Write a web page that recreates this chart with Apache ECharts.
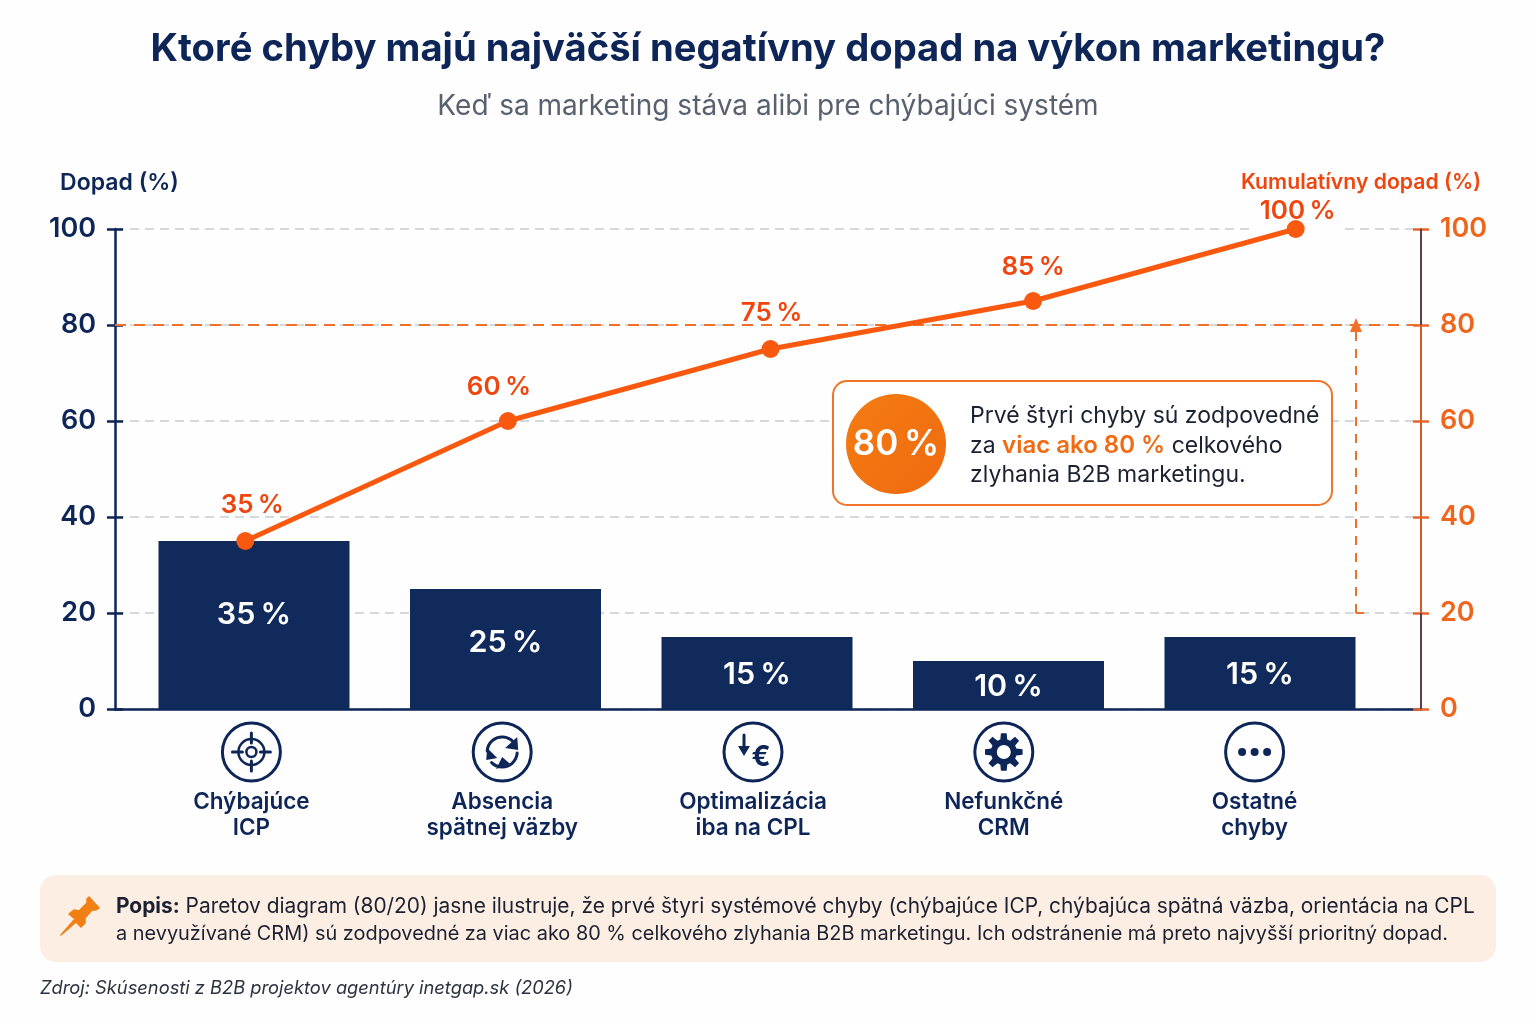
<!DOCTYPE html>
<html><head><meta charset="utf-8">
<style>html,body{margin:0;padding:0;background:#fff}#c{width:1536px;height:1024px}</style>
<script src="https://cdn.jsdelivr.net/npm/echarts@6/dist/echarts.min.js"></script>
</head><body><div id="c"></div>
<script>
const categories = ['Chýbajúce\nICP','Absencia\nspätnej väzby','Optimalizácia\niba na CPL','Nefunkčné\nCRM','Ostatné\nchyby'];
const impactValues = [35,25,15,10,15];
const cumulativeValues = [35,60,75,85,100];
const thresholdValue = 80;
const arrowFromValue = 20;
const yTicks = {min:0,max:100,interval:20};

const NAVY='#0e2557', BAR='#102a5c', ORANGE='#f9590f', RED='#f0450e', TICKO='#f0651c', BG='#fefefe', FONT='Inter, "Noto Sans", sans-serif';
const PCT='\u2009%';
const chart = echarts.init(document.getElementById('c'),null,{renderer:'canvas'});
const yBase = Object.assign({type:'value'},yTicks);
const hiddenCat = (g)=>({type:'category',gridIndex:g,data:categories,show:false});
const hiddenY = (g)=>Object.assign({},yBase,{gridIndex:g,show:false});
const axisX=1421, arrowX=1356;

chart.setOption({
  backgroundColor:BG,
  animation:false,
  title:[
    {text:'Ktoré chyby majú najväčší negatívny dopad na výkon marketingu?',left:'center',top:26,textStyle:{fontFamily:FONT,fontSize:38.2,fontWeight:700,color:NAVY}},
    {text:'Keď sa marketing stáva alibi pre chýbajúci systém',left:'center',top:88,textStyle:{fontFamily:FONT,fontSize:28,fontWeight:400,color:'#59616f'}}
  ],
  grid:[
    {left:115,top:229,width:1306,height:480},   // axes and grid lines
    {left:128.25,top:229,width:1257.5,height:480}, // bars
    {left:114,top:229,width:1313,height:480},   // cumulative line
    {left:126,top:229,width:1254,height:480}    // category labels and icons
  ],
  xAxis:[
    {type:'category',gridIndex:0,data:categories,axisLine:{lineStyle:{color:NAVY,width:2.5}},axisTick:{show:false},axisLabel:{show:false}},
    hiddenCat(1),hiddenCat(2),
    {type:'category',gridIndex:3,data:categories,axisLine:{show:false},axisTick:{show:false},
     axisLabel:{margin:80,fontFamily:FONT,fontSize:22.5,fontWeight:600,color:NAVY,lineHeight:26,interval:0}}
  ],
  yAxis:[
    Object.assign({},yBase,{gridIndex:0,position:'left',name:'Dopad (%)',nameLocation:'end',nameGap:34,
      nameTextStyle:{fontFamily:FONT,fontSize:23,fontWeight:600,color:NAVY,align:'center',padding:[0,0,0,9]},
      axisLine:{show:true,lineStyle:{color:NAVY,width:2.5}},axisTick:{show:true,length:8,lineStyle:{color:NAVY,width:2.5}},
      axisLabel:{margin:19,fontFamily:FONT,fontSize:27,fontWeight:600,color:NAVY,padding:[7,0,0,0]},
      splitLine:{show:true,lineStyle:{color:'#c9ccd1',width:1.5,type:[9,6]}}}),
    Object.assign({},yBase,{gridIndex:0,position:'right',name:'Kumulatívny dopad (%)',nameLocation:'end',nameGap:36,
      nameTextStyle:{fontFamily:FONT,fontSize:21.2,fontWeight:600,color:RED,align:'center',padding:[0,120,0,0]},
      axisLine:{show:true,lineStyle:{color:'#d35a25',width:2}},axisTick:{show:true,length:8,lineStyle:{color:'#e8642a',width:2.5}},
      axisLabel:{margin:19,fontFamily:FONT,fontSize:27,fontWeight:600,color:TICKO,padding:[7,0,0,0]},splitLine:{show:false}}),
    Object.assign({},yBase,{gridIndex:0,position:'left',axisLine:{show:false},axisLabel:{show:false},splitLine:{show:false},
      axisTick:{show:true,inside:true,length:8,lineStyle:{color:NAVY,width:2.5}}}),
    Object.assign({},yBase,{gridIndex:0,position:'right',axisLine:{show:false},axisLabel:{show:false},splitLine:{show:false},
      axisTick:{show:true,inside:true,length:8,lineStyle:{color:'#e8642a',width:2.5}}}),
    hiddenY(1),hiddenY(2),hiddenY(3)
  ],
  series:[
    {type:'line',name:'Prah',xAxisIndex:0,yAxisIndex:0,data:[],z:3,silent:true,
     markLine:{silent:true,symbol:'none',animation:false,label:{show:false},
       data:[
         {yAxis:thresholdValue,lineStyle:{color:'#f0702a',width:2,type:[11,8]}},
         [{x:arrowX,yAxis:arrowFromValue,symbol:'none',lineStyle:{color:'#f0702a',width:2,type:[9,8]}},{x:arrowX,yAxis:thresholdValue,symbol:'triangle',symbolSize:[12,14]}],
         [{x:arrowX,yAxis:arrowFromValue,lineStyle:{color:'#f0702a',width:2,type:'solid'}},{x:arrowX+8,yAxis:arrowFromValue}],
         [{x:axisX,yAxis:yTicks.max,lineStyle:{color:'#5a3f50',width:2,type:'solid'}},{x:axisX,yAxis:thresholdValue}],
         [{x:axisX,yAxis:arrowFromValue,lineStyle:{color:'#5a3f50',width:2,type:'solid'}},{x:axisX,yAxis:yTicks.min}]
       ]}},
    {type:'bar',name:'Dopad',xAxisIndex:1,yAxisIndex:4,barWidth:191,z:4,
     data:impactValues.map((v,i)=>({value:v,label:{offset:[0,[-10,-6,2,2,2][i]]}})),
     itemStyle:{color:BAR},
     label:{show:true,position:'inside',formatter:p=>p.value+PCT,fontFamily:FONT,fontSize:30.5,fontWeight:600,color:'#fff'}},
    {type:'line',name:'Kumulatívny dopad',xAxisIndex:2,yAxisIndex:5,z:5,
     data:cumulativeValues.map((v,i)=>({value:v,label:{distance:[12,10,12,10,-6][i],offset:[[7,-9,1,0,2][i],0]}})),
     lineStyle:{color:ORANGE,width:5,cap:'round'},itemStyle:{color:ORANGE},symbol:'circle',symbolSize:18,
     label:{show:true,position:'top',formatter:p=>p.value+PCT,fontFamily:FONT,fontSize:26,fontWeight:600,color:RED,padding:[2,2,2,2]}}
  ]
});

// decorations positioned from the axes
const iconY=752, R=29;
const ln={stroke:NAVY,lineWidth:3,fill:'none',lineCap:'round'};
const solid={fill:NAVY};
const L=(x1,y1,x2,y2,w)=>({type:'line',shape:{x1,y1,x2,y2},style:Object.assign({},ln,w?{lineWidth:w}:{})});
const P=(points)=>({type:'polygon',shape:{points},style:solid});
function gearPoints(){const pts=[];const n=8;for(let i=0;i<n;i++){const a=i/n*Math.PI*2;const w=Math.PI/n*0.55;
  [[13,a-w*1.25],[19,a-w*0.7],[19,a+w*0.7],[13,a+w*1.25]].forEach(p=>pts.push([p[0]*Math.cos(p[1]),p[0]*Math.sin(p[1])]));}
  return pts;}
const icons=[
 [{type:'circle',shape:{r:13},style:Object.assign({},ln,{lineWidth:2.5})},{type:'circle',shape:{r:5},style:Object.assign({},ln,{lineWidth:2.5})},
  L(0,-19,0,-9),L(0,9,0,19),L(-19,0,-9,0),L(9,0,19,0)],
 [{type:'arc',shape:{r:15,startAngle:Math.PI*1.02,endAngle:Math.PI*1.75,clockwise:true},style:ln},P([[15,-15],[16,-2],[3,-4]]),
  {type:'arc',shape:{r:15,startAngle:Math.PI*0.02,endAngle:Math.PI*0.75,clockwise:true},style:ln},P([[-15,-4],[-16,8],[-5,6]]),P([[-6,17],[8,12],[0,5]])],
 [L(-9,-17,-9,-3),P([[-15,-6],[-3,-6],[-9,4]]),
  {type:'text',style:{text:'€',x:8,y:6,align:'center',verticalAlign:'middle',fontFamily:FONT,fontSize:28,fontWeight:700,fill:NAVY}}],
 [{type:'polygon',shape:{points:gearPoints()},style:solid},{type:'circle',shape:{r:7},style:{fill:BG}}],
 [{type:'circle',shape:{cx:-12.5,r:4},style:solid},{type:'circle',shape:{r:4},style:solid},{type:'circle',shape:{cx:12.5,r:4},style:solid}]
];
const iconGroups=categories.map((c,i)=>({
  type:'group',x:chart.convertToPixel({xAxisIndex:3},i),y:iconY,
  children:[{type:'circle',shape:{r:R},style:{fill:BG,stroke:NAVY,lineWidth:3}}].concat(icons[i])
}));

const graphics=iconGroups.concat([
  // breaks in the reference lines next to labels
  {type:'rect',z:2,shape:{x:1254,y:226,width:89,height:6},style:{fill:BG}},
  {type:'rect',z:4,shape:{x:735,y:323,width:110,height:6},style:{fill:BG}},
  {type:'rect',z:10,shape:{x:833,y:381,width:499,height:124,r:14},style:{fill:'#fff',stroke:'#f0742a',lineWidth:2}},
  {type:'circle',z:11,shape:{cx:896,cy:444,r:50},style:{fill:new echarts.graphic.LinearGradient(0,0,1,1,[{offset:0,color:'#f47c12'},{offset:1,color:'#ef6a10'}])}},
  {type:'text',z:12,style:{text:'80'+PCT,x:896,y:444,align:'center',verticalAlign:'middle',fontFamily:FONT,fontSize:35,fontWeight:600,fill:'#fff'}},
  {type:'text',z:12,style:{x:970,y:446,verticalAlign:'middle',lineHeight:29.5,fontFamily:FONT,fontSize:23,fill:'#1b2130',
    text:'Prvé štyri chyby sú zodpovedné\nza {o|viac ako 80 %} celkového\nzlyhania B2B marketingu.',
    rich:{o:{fontFamily:FONT,fontSize:24,fontWeight:600,fill:'#f26a12',lineHeight:29.5}}}},
  {type:'rect',z:1,shape:{x:40,y:875,width:1456,height:87,r:16},style:{fill:'#fdeee4'}},
  {type:'polygon',z:2,shape:{points:[[61,935],[75,919],[69,914],[74,910],[79,911],[87,903],[87,899],[89,897],[99,908],[96,910],[92,910],[85,918],[85,923],[81,927],[76,922]]},style:{fill:'#f08014',stroke:'#f08014',lineWidth:1.5,lineJoin:'round'}},
  {type:'text',z:2,style:{x:116,y:907,verticalAlign:'middle',fontFamily:FONT,fontSize:20.9,fill:'#1b2130',
    text:'{b|Popis:} Paretov diagram (80/20) jasne ilustruje, že prvé štyri systémové chyby (chýbajúce ICP, chýbajúca spätná väzba, orientácia na CPL',
    rich:{b:{fontFamily:FONT,fontSize:20.9,fontWeight:700,fill:'#1b2130'}}}},
  {type:'text',z:2,style:{x:116,y:934,verticalAlign:'middle',fontFamily:FONT,fontSize:19.9,fill:'#1b2130',
    text:'a nevyužívané CRM) sú zodpovedné za viac ako 80 % celkového zlyhania B2B marketingu. Ich odstránenie má preto najvyšší prioritný dopad.'}},
  {type:'text',z:2,style:{x:40,y:989,verticalAlign:'middle',fontFamily:FONT,fontSize:18.3,fontStyle:'italic',fill:'#2c3240',
    text:'Zdroj: Skúsenosti z B2B projektov agentúry inetgap.sk (2026)'}}
]);
chart.setOption({graphic:graphics});
</script></body></html>
